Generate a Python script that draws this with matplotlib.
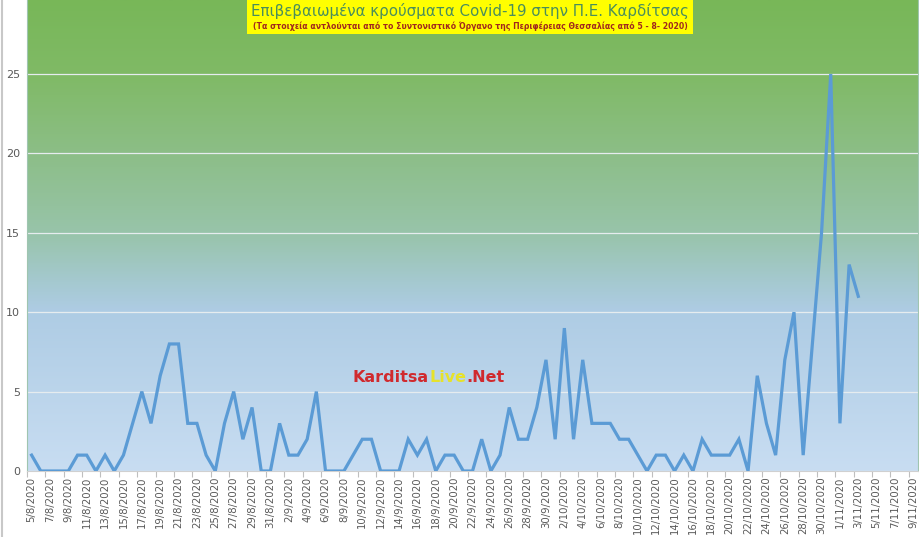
import numpy as np
import pandas as pd
import matplotlib
matplotlib.use("Agg")
import matplotlib.pyplot as plt
from matplotlib.colors import LinearSegmentedColormap

# daily confirmed cases, 5/8/2020 .. 3/11/2020 (axis runs to 9/11/2020)
dates = pd.date_range("2020-08-05", "2020-11-09", freq="D")
aug = [1, 0, 0, 0, 0, 1, 1, 0, 1, 0, 1, 3, 5, 3, 6, 8, 8, 3, 3, 1, 0, 3, 5, 2, 4, 0, 0]
sep = [3, 1, 1, 2, 5, 0, 0, 0, 1, 2, 2, 0, 0, 0, 2, 1, 2, 0, 1, 1, 0, 0, 2, 0, 1, 4, 2, 2, 4, 7]
octo = [2, 9, 2, 7, 3, 3, 3, 2, 2, 1, 0, 1, 1, 0, 1, 0, 2, 1, 1, 1, 2, 0, 6, 3, 1, 7, 10, 1, 8, 15, 25]
nov = [3, 13, 11]

cases = aug + sep + octo + nov
cases = cases + [np.nan] * (len(dates) - len(cases))
labels = [f"{d.day}/{d.month}/{d.year}" for d in dates]

title = "Επιβεβαιωμένα κρούσματα Covid-19 στην Π.Ε. Καρδίτσας"
subtitle = ("(Τα στοιχεία αντλούνται από το Συντονιστικό Όργανο της "
            "Περιφέρειας Θεσσαλίας από 5 - 8- 2020)")

W, H = 920, 537
fig = plt.figure(figsize=(W / 100, H / 100), dpi=100)
fig.patch.set_facecolor("white")
ax = fig.add_axes([27 / W, (H - 471) / H, (918 - 27) / W, 471 / H])

n = len(dates)
x = np.arange(n)
ytop = 471 / 15.88

# gradient background of the plot area (blue at bottom, green at top)
def c(r, g, b):
    return (r / 255, g / 255, b / 255)

grad = LinearSegmentedColormap.from_list("bg", [
    (0.0, c(200, 221, 242)),
    (0.34, c(174, 204, 228)),
    (0.40, c(165, 201, 208)),
    (0.505, c(152, 196, 170)),
    (0.675, c(140, 190, 135)),
    (0.84, c(128, 186, 102)),
    (1.0, c(120, 183, 88)),
])
ax.imshow(np.linspace(0, 1, 256).reshape(-1, 1), cmap=grad, aspect="auto",
          origin="lower", extent=(-0.5, n - 0.5, 0, ytop), zorder=0)

ax.plot(x, cases, color="#5b9bd5", linewidth=2.3, solid_joinstyle="miter", zorder=3)

ax.set_xlim(-0.5, n - 0.5)
ax.set_ylim(0, ytop)
ax.set_yticks([0, 5, 10, 15, 20, 25])
ax.grid(axis="y", color="#e6ecef", linewidth=0.9, zorder=1)
ax.set_axisbelow(True)

ax.set_xticks(x[::2])
ax.set_xticklabels(labels[::2], rotation=90, fontsize=7.3, color="#595959")
ax.set_xticks(np.arange(-0.5, n, 2), minor=True)
ax.tick_params(axis="x", which="major", length=0, pad=4)
ax.tick_params(axis="x", which="minor", length=4, color="#bfbfbf", width=0.8)
ax.tick_params(axis="y", length=0, labelsize=8, labelcolor="#595959", pad=5)

ax.spines["top"].set_visible(False)
ax.spines["left"].set_color("#9fc5b0")
ax.spines["bottom"].set_color("#d0d0d0")
ax.spines["right"].set_color("#9fc5b0")

# chart border on the left
fig.add_artist(plt.Line2D([0.002, 0.002], [0, 1], color="#c8c8c8", linewidth=1.5))

# title box
fig.add_artist(plt.Rectangle((247 / W, 1 - 34 / H), (693 - 247) / W, 34 / H,
                             facecolor="#ffff00", edgecolor="none", zorder=5))
fig.text(470 / W, 1 - 11 / H, title, ha="center", va="center", fontsize=10.8,
         color="#4a8e5c", zorder=6)
fig.text(470 / W, 1 - 26 / H, subtitle, ha="center", va="center", fontsize=5.6,
         fontweight="bold", color="#a0281e", zorder=6)

# watermark
fig.canvas.draw()
r = fig.canvas.get_renderer()
px, py = 353, H - 378
for part, col in [("Karditsa", "#d02a2e"), ("Live", "#e6e22a"), (".Net", "#d02a2e")]:
    t = fig.text(px / W, py / H, part, ha="left", va="center", fontsize=11.5,
                 fontweight="bold", color=col, zorder=6)
    px = t.get_window_extent(renderer=r).x1

fig.savefig("out.png", dpi=100)
